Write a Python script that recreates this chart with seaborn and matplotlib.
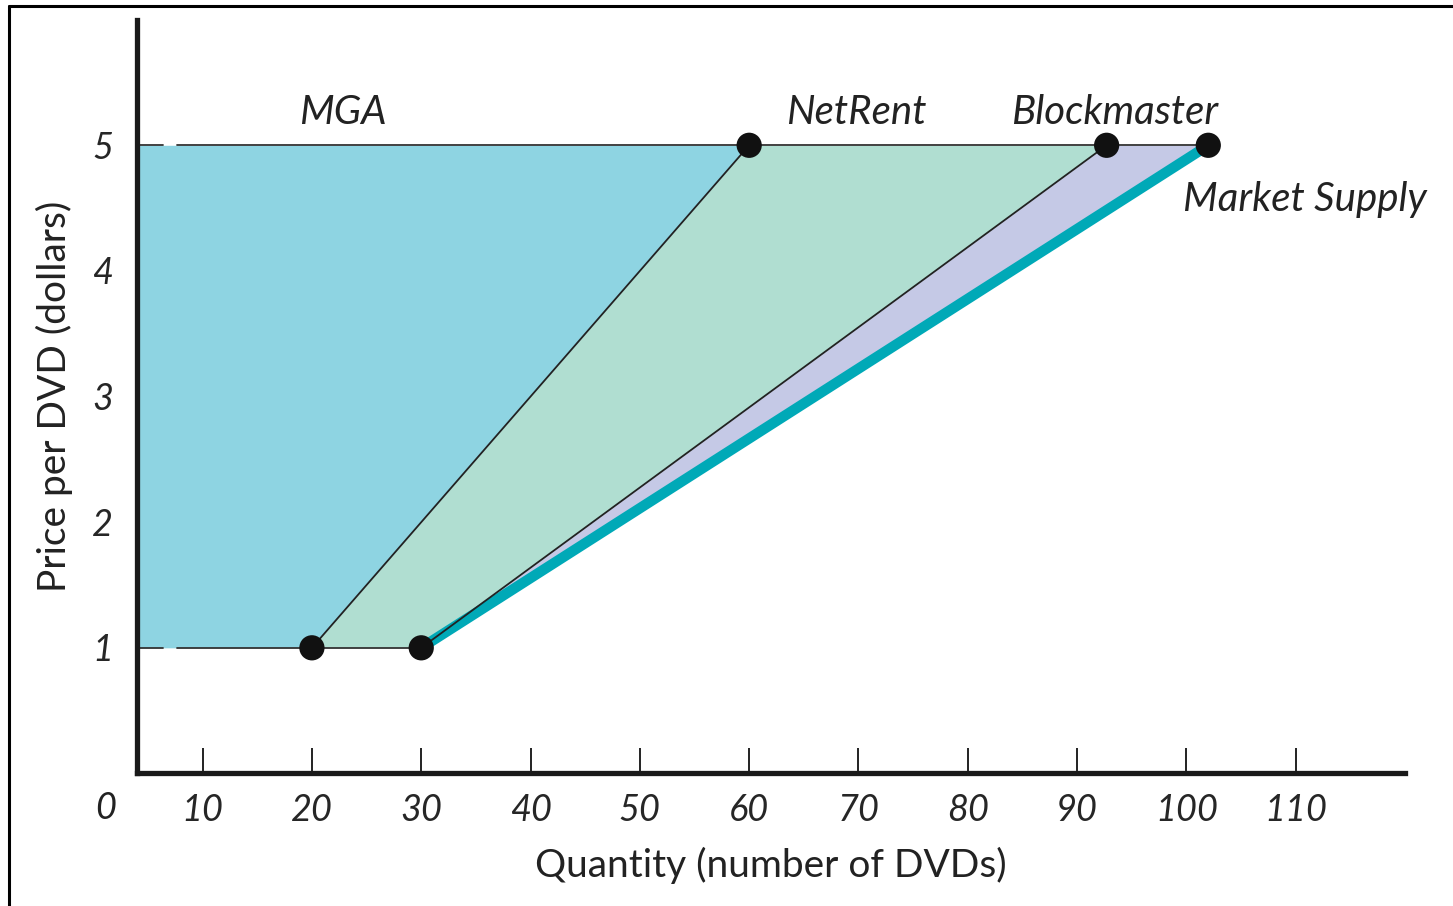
import matplotlib
matplotlib.use("Agg")
import matplotlib.pyplot as plt
import numpy as np
import pandas as pd
import seaborn as sns

# Data: quantities supplied at each price (cumulative, left to right)
prices = [1, 5]
mga_qty = [20, 60]
mga_netrent_qty = [30, 92.7]
market_qty = [30, 102]
labels = ["MGA", "NetRent", "Blockmaster", "Market Supply"]
x_ticks = [10, 20, 30, 40, 50, 60, 70, 80, 90, 100, 110]
y_ticks = [1, 2, 3, 4, 5]

# Colours
blue = "#8ed4e2"
green = "#b0ded1"
purple = "#c5c9e6"
teal = "#00a9b7"

sns.set_style("white")
plt.rcParams["font.family"] = ["Lato", "DejaVu Sans"]

fig = plt.figure(figsize=(14.53, 9.06), dpi=100)
ax = fig.add_axes([0.0943, 0.1463, 0.8727, 0.832])
x_min = 4
ax.set_xlim(x_min, 120)
ax.set_ylim(0, 6)

# Shaded regions between the supply curves
ax.fill_betweenx(prices, [x_min, x_min], mga_qty, color=blue, lw=0)
ax.fill_betweenx(prices, mga_qty, mga_netrent_qty, color=green, lw=0)
ax.fill_betweenx(prices, mga_netrent_qty, market_qty, color=purple, lw=0)

# Horizontal price lines (with small gap near the axis)
gap_lo, gap_hi = 6.4, 7.7
for p, q_end in [(1, market_qty[0]), (5, market_qty[1])]:
    ax.plot([x_min, gap_lo], [p, p], color="#333333", lw=1.3)
    ax.plot([gap_hi, q_end], [p, p], color="#333333", lw=1.3)

# Supply curves
df = pd.DataFrame({
    "price": prices * 3,
    "qty": mga_qty + mga_netrent_qty + market_qty,
    "curve": ["mga"] * 2 + ["mga_netrent"] * 2 + ["market"] * 2,
})
sns.lineplot(data=df[df.curve == "market"], x="qty", y="price", color=teal,
             lw=7.5, ax=ax, solid_capstyle="butt")
sns.lineplot(data=df[df.curve == "mga"], x="qty", y="price", color="#222222",
             lw=1.3, ax=ax)
sns.lineplot(data=df[df.curve == "mga_netrent"], x="qty", y="price",
             color="#222222", lw=1.3, ax=ax)

# Points
pts = pd.DataFrame({
    "qty": [mga_qty[0], market_qty[0], mga_qty[1], mga_netrent_qty[1], market_qty[1]],
    "price": [1, 1, 5, 5, 5],
})
sns.scatterplot(data=pts, x="qty", y="price", s=330, color="#111111",
                edgecolor="none", zorder=5, ax=ax, clip_on=False)

# Curve labels
lab_kw = dict(fontsize=29, style="italic", color="#222222", ha="center", va="center")
ax.text(22.8, 5.26, labels[0], **lab_kw)
ax.text(69.8, 5.26, labels[1], **lab_kw)
ax.text(93.4, 5.26, labels[2], **lab_kw)
ax.text(110.8, 4.57, labels[3], **lab_kw)

# Axes styling
for s in ["top", "right"]:
    ax.spines[s].set_visible(False)
for s in ["left", "bottom"]:
    ax.spines[s].set_linewidth(3.8)
    ax.spines[s].set_color("#1a1a1a")

ax.set_xticks(x_ticks)
ax.set_xticklabels([str(t) for t in x_ticks], fontsize=26, style="italic")
ax.set_yticks(y_ticks)
ax.set_yticklabels([str(t) for t in y_ticks], fontsize=26, style="italic")
ax.tick_params(axis="x", direction="in", length=18, width=1.4, color="#222222",
               pad=15, bottom=True)
ax.tick_params(axis="y", length=0, pad=17)
ax.text(1.1, -0.28, "0", fontsize=26, style="italic", ha="center", va="center",
        color="#222222")

ax.set_xlabel("Quantity (number of DVDs)", fontsize=28, labelpad=14, color="#222222")
ax.set_ylabel("Price per DVD (dollars)", fontsize=28, labelpad=14, color="#222222")

# Partial frame around the figure
fig.add_artist(plt.Line2D([0.0062, 0.0062], [0, 0.993], color="black", lw=2.2))
fig.add_artist(plt.Line2D([0.0062, 1], [0.993, 0.993], color="black", lw=2.2))

fig.savefig("out.png", dpi=100)
